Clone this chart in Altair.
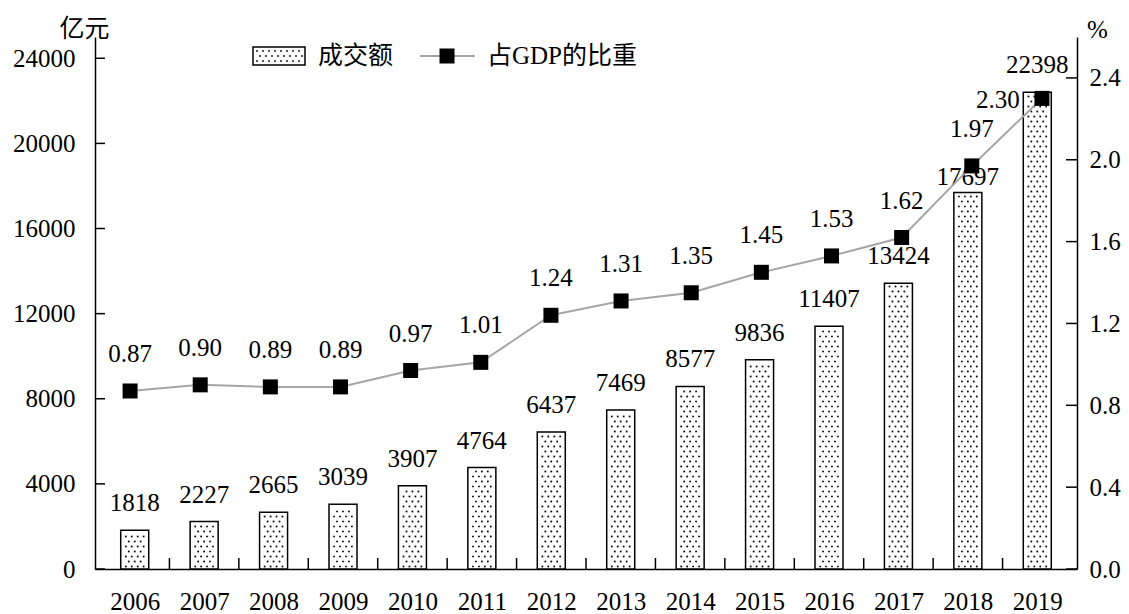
import altair as alt
import pandas as pd

# ---------------- data ----------------
years = [2006, 2007, 2008, 2009, 2010, 2011, 2012, 2013, 2014, 2015, 2016, 2017, 2018, 2019]
amount = [1818, 2227, 2665, 3039, 3907, 4764, 6437, 7469, 8577, 9836, 11407, 13424, 17697, 22398]
share = [0.87, 0.90, 0.89, 0.89, 0.97, 1.01, 1.24, 1.31, 1.35, 1.45, 1.53, 1.62, 1.97, 2.30]
left_ticks = [0, 4000, 8000, 12000, 16000, 20000, 24000]
right_ticks = [0.0, 0.4, 0.8, 1.2, 1.6, 2.0, 2.4]
legend_labels = ["成交额", "占GDP的比重"]
left_title = "亿元"
right_title = "%"

# ---------------- style ----------------
W, H = 982, 532
FONT = "'Liberation Serif', 'Times New Roman', 'Noto Sans CJK SC', serif"
FS = 25
PX_PER_YEAR = W / 14.0
ROW_STEP = 5 * 25000 / H  # 5px rows of dots

df = pd.DataFrame({"year": years, "amount": amount, "share": share})
df["amount_label"] = df["amount"].astype(str)
df["share_label"] = df["share"].map(lambda v: f"{v:.2f}")

xscale = alt.Scale(domain=[2005.5, 2019.5], nice=False, zero=False)
yl = alt.Scale(domain=[0, 25000], nice=False)
yr = alt.Scale(domain=[0, 2.6], nice=False)

AX = alt.Axis(values=years, format="d", ticks=False, labelPadding=20,
              title=None, grid=False, labelFlush=False, labelOverlap=False)
AYL = alt.Axis(values=left_ticks, format="d", ticks=False, labelPadding=20,
               grid=False, title=left_title, titleAngle=0, titleX=-11, titleY=-9,
               titleAlign="center", titleBaseline="middle", labelOverlap=False)
AYR = alt.Axis(orient="right", values=right_ticks, format=".1f", ticks=False,
               labelPadding=12, grid=False, title=right_title, titleAngle=0,
               titleX=20, titleY=-8, titleAlign="center", titleBaseline="middle",
               labelOverlap=False)

base = alt.Chart(df)
XL = alt.X("year:Q", scale=xscale, axis=AX)
YL = alt.Y("amount:Q", scale=yl, axis=AYL)
XR = alt.X("year:Q", scale=xscale, axis=None)
YR = alt.Y("share:Q", scale=yr, axis=AYR)

bars = base.mark_bar(size=28, fill="white", stroke="black", strokeWidth=1.5).encode(x=XL, y=YL)

dots = base.transform_calculate(
    r=f"sequence(0, floor(datum.amount / {ROW_STEP}))"
).transform_flatten(["r"]).transform_calculate(
    cols="datum.r % 2 == 0 ? [-9, -3, 3, 9] : [-6, 0, 6]"
).transform_flatten(["cols"]).transform_calculate(
    xd=f"datum.year + datum.cols / {PX_PER_YEAR}",
    yd=f"(datum.r + 0.5) * {ROW_STEP}",
).mark_square(size=3, color="black", opacity=1).encode(
    x=alt.X("xd:Q", scale=xscale, axis=AX),
    y=alt.Y("yd:Q", scale=yl, axis=AYL),
)

bar_text = base.transform_filter("datum.year != 2018").mark_text(
    font=FONT, fontSize=FS, dy=-27, baseline="middle", color="black"
).encode(x=XL, y=YL, text="amount_label:N")

bar_text2 = base.transform_filter("datum.year == 2018").mark_text(
    font=FONT, fontSize=FS, dy=-15, baseline="middle", color="black"
).encode(x=XL, y=YL, text="amount_label:N")

xticks = base.transform_filter("datum.year < 2019").transform_calculate(
    xb="datum.year + 0.5"
).mark_rule(color="black", strokeWidth=1.5).encode(
    x=alt.X("xb:Q", scale=xscale, axis=AX), y=alt.value(H - 11), y2=alt.value(H)
)

lticks = alt.Chart(pd.DataFrame({"v": left_ticks})).mark_rule(color="black", strokeWidth=1.5).encode(
    y=alt.Y("v:Q", scale=yl, axis=AYL), x=alt.value(0), x2=alt.value(10)
)

left = alt.layer(bars, dots, bar_text, bar_text2, xticks, lticks)

line = base.mark_line(color="#a6a6a6", strokeWidth=2).encode(x=XR, y=YR)
pts = base.mark_square(size=225, color="black", opacity=1, filled=True).encode(x=XR, y=YR)
line_text = base.transform_filter("datum.year != 2019").mark_text(
    font=FONT, fontSize=FS, dy=-37, baseline="middle", color="black"
).encode(x=XR, y=YR, text="share_label:N")
line_text2 = base.transform_filter("datum.year == 2019").mark_text(
    font=FONT, fontSize=FS, dx=-44, dy=2, baseline="middle", color="black"
).encode(x=XR, y=YR, text="share_label:N")
rticks = alt.Chart(pd.DataFrame({"v": right_ticks})).mark_rule(color="black", strokeWidth=1.5).encode(
    y=alt.Y("v:Q", scale=yr, axis=AYR), x=alt.value(W - 11), x2=alt.value(W)
)

right = alt.layer(line, pts, line_text, line_text2, rticks)

# ---------------- legend ----------------
one = pd.DataFrame({"a": [0]})
sw = alt.Chart(one).mark_rect(fill="white", stroke="black", strokeWidth=1.5).encode(
    x=alt.value(158), x2=alt.value(210), y=alt.value(10), y2=alt.value(28)
)
sw_dots = alt.Chart(one).transform_calculate(r="sequence(0, 3)").transform_flatten(["r"]).transform_calculate(
    c="sequence(0, 8)"
).transform_flatten(["c"]).transform_calculate(
    px="162 + datum.c * 6 + (datum.r % 2) * 3", py="14 + datum.r * 5"
).mark_square(size=3, color="black", opacity=1).encode(
    x=alt.X("px:Q", scale=None, axis=None), y=alt.Y("py:Q", scale=None, axis=None)
)
lg_text1 = alt.Chart(pd.DataFrame({"t": [legend_labels[0]]})).mark_text(
    font=FONT, fontSize=FS, align="left", baseline="middle", color="black"
).encode(x=alt.value(223), y=alt.value(19), text="t:N")
lg_line = alt.Chart(one).mark_rule(color="#a6a6a6", strokeWidth=2).encode(
    x=alt.value(325), x2=alt.value(380), y=alt.value(19)
)
lg_sq = alt.Chart(one).mark_square(size=225, color="black", opacity=1).encode(
    x=alt.value(352), y=alt.value(19)
)
lg_text2 = alt.Chart(pd.DataFrame({"t": [legend_labels[1]]})).mark_text(
    font=FONT, fontSize=FS, align="left", baseline="middle", color="black"
).encode(x=alt.value(392), y=alt.value(19), text="t:N")

legend = alt.layer(sw, sw_dots, lg_text1, lg_line, lg_sq, lg_text2)

chart = alt.layer(left, right, legend).resolve_scale(
    x="independent", y="independent"
).properties(
    width=W, height=H,
    padding={"left": 87, "top": 29, "right": 44, "bottom": 44},
    autosize=alt.AutoSizeParams(type="none"),
).configure_view(stroke=None).configure_axis(
    domainColor="black", domainWidth=1.5, labelFont=FONT, labelFontSize=FS,
    labelColor="black", titleFont=FONT, titleFontSize=FS, titleFontWeight="normal",
    titleColor="black",
)

chart.save("out.html", embed_options={"renderer": "svg", "actions": False})
